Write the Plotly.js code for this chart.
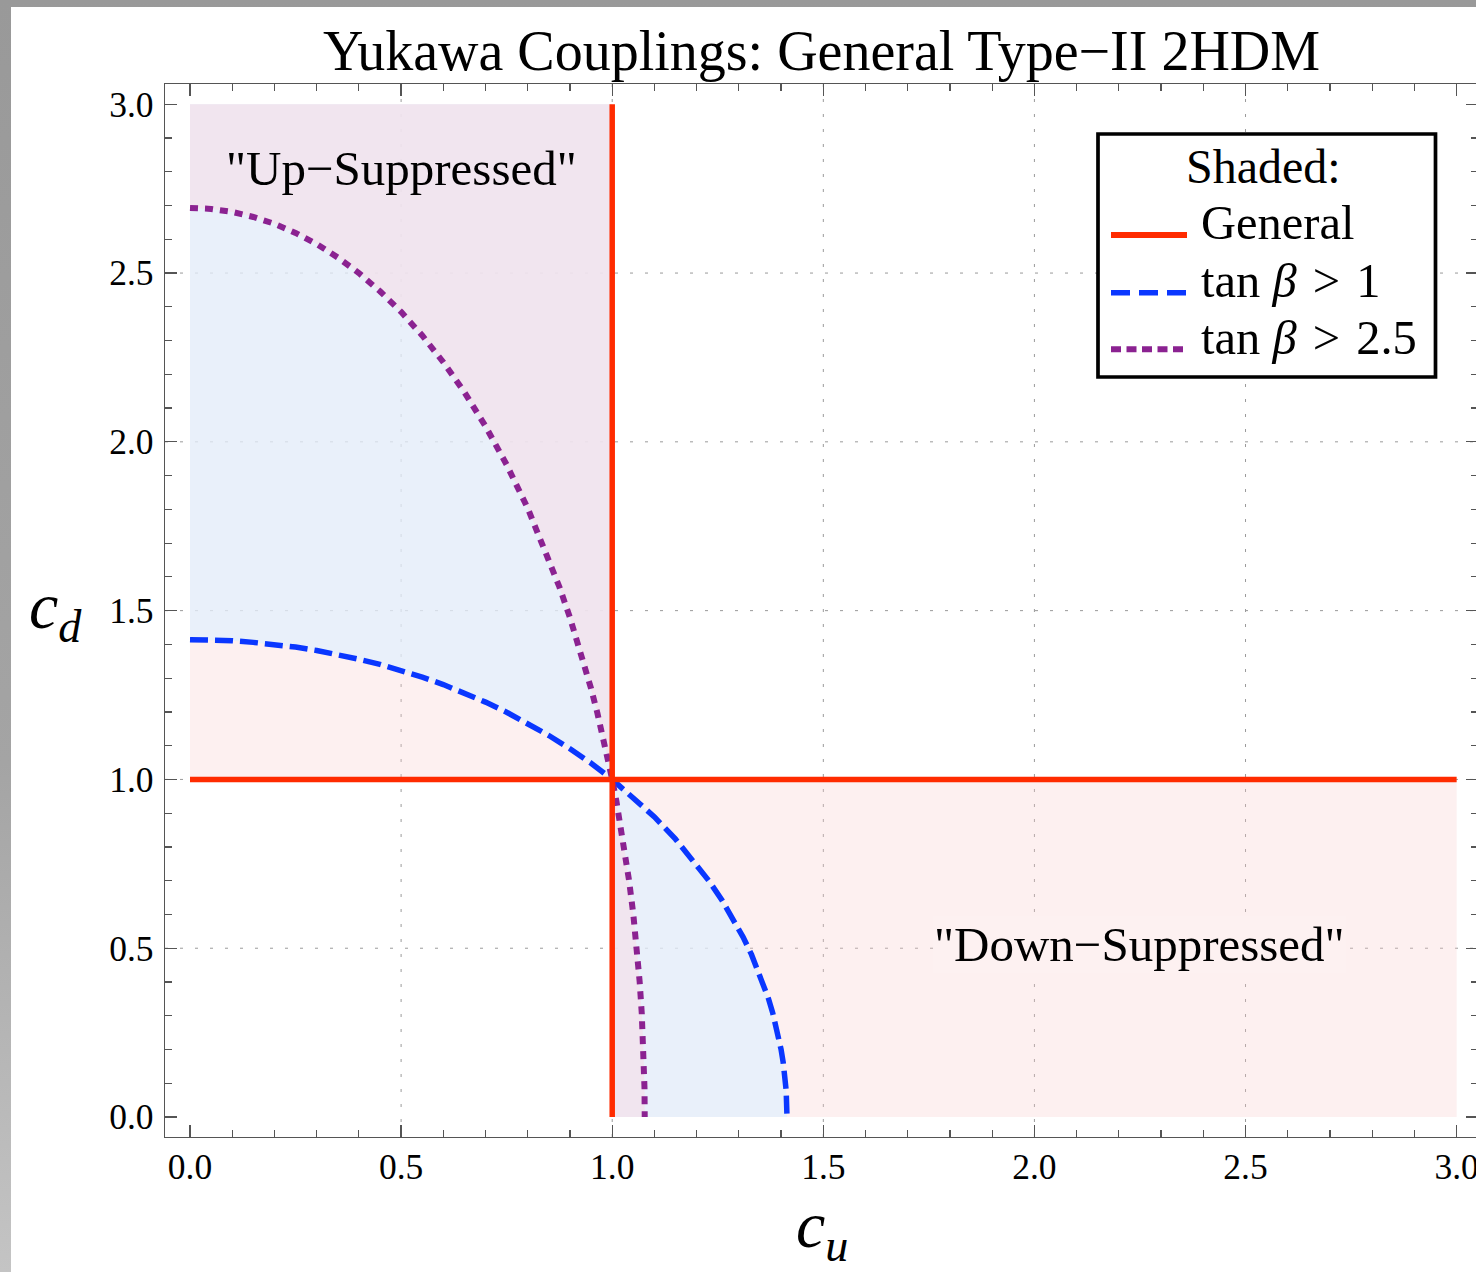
<!DOCTYPE html>
<html>
<head>
<meta charset="utf-8">
<script src="https://cdn.plot.ly/plotly-3.0.1.min.js"></script>
<style>
html, body { margin:0; padding:0; width:1476px; height:1272px; overflow:hidden; }
body { background: linear-gradient(to bottom, #999999 0%, #a4a4a4 60%, #c4c4c4 100%); }
#plot { position:absolute; left:11px; top:7px; width:1479px; height:1265px; background:#fff; }
</style>
</head>
<body>
<div id="plot"></div>
<script>
// ---------------- data ----------------
// "General" boundaries (red solid): c_d = 1 and c_u = 1
const generalHX = [0, 3];
const generalHY = [1, 1];
const generalVX = [1, 1];
const generalVY = [0, 3];
// "General" shaded regions
const upRegionX = [0, 1, 1, 0];
const upRegionY = [1, 1, 3, 3];
const downRegionX = [1, 3, 3, 1];
const downRegionY = [0, 0, 1, 1];
// tan beta > 1 boundary (blue dashed)
const tb1X = [0, 0.05, 0.1, 0.15, 0.2, 0.25, 0.3, 0.35, 0.4, 0.45, 0.5, 0.55, 0.6, 0.65, 0.7, 0.75, 0.8, 0.85, 0.9, 0.95,
              1.0, 1.05, 1.1, 1.15, 1.2, 1.23, 1.26, 1.29, 1.31, 1.33, 1.35, 1.37, 1.38, 1.395, 1.40, 1.405, 1.41, 1.412, 1.414];
const tb1Y = [1.414, 1.413, 1.411, 1.406, 1.400, 1.392, 1.382, 1.370, 1.356, 1.341, 1.323, 1.303, 1.281, 1.256, 1.229, 1.199, 1.166, 1.130, 1.091, 1.048,
              1.000, 0.947, 0.889, 0.823, 0.748, 0.698, 0.642, 0.580, 0.533, 0.481, 0.421, 0.351, 0.309, 0.232, 0.200, 0.161, 0.109, 0.079, 0.0];
// tan beta > 2.5 boundary (purple dotted)
const tb25X = [0, 0.05, 0.1, 0.15, 0.2, 0.25, 0.3, 0.35, 0.4, 0.45, 0.5, 0.55, 0.6, 0.65, 0.7, 0.75, 0.8, 0.85, 0.875, 0.9, 0.925, 0.95, 0.965, 0.98, 0.99,
               1.0, 1.01, 1.02, 1.03, 1.04, 1.05, 1.06, 1.065, 1.07, 1.073, 1.075, 1.0765, 1.077];
const tb25Y = [2.693, 2.690, 2.681, 2.666, 2.646, 2.619, 2.586, 2.546, 2.500, 2.446, 2.385, 2.315, 2.236, 2.147, 2.046, 1.932, 1.803, 1.654, 1.570, 1.479, 1.379, 1.269, 1.196, 1.117, 1.060,
               1.000, 0.935, 0.865, 0.787, 0.700, 0.600, 0.477, 0.401, 0.307, 0.233, 0.164, 0.085, 0.0];
// ticks
const tickVals = [0, 0.5, 1, 1.5, 2, 2.5, 3];
const tickText = ['0.0', '0.5', '1.0', '1.5', '2.0', '2.5', '3.0'];
const gridVals = [0.5, 1, 1.5, 2, 2.5];
// texts
const titleText = 'Yukawa Couplings: General Type\u2212II 2HDM';
const upLabel = '"Up\u2212Suppressed"';
const downLabel = '"Down\u2212Suppressed"';
const legendTitle = 'Shaded:';
const GT = '\u2004>\u2004';
const legendNames = ['General', 'tan <i>\u03b2</i>' + GT + '1', 'tan <i>\u03b2</i>' + GT + '2.5'];

// ---------------- styles ----------------
const FONT = 'Liberation Serif, Times New Roman, serif';
const RED = '#ff2b00', BLUE = '#0a37ff', PURPLE = '#8b2291';
const RED_FILL = 'rgba(248,205,205,0.3)';
const BLUE_FILL = 'rgba(224,240,254,0.7)';
const PURPLE_FILL = 'rgba(244,224,234,0.7)';
const BLUE_DASH = '18px,7px';
const PURPLE_DASH = '8px,7px';

const yTop = Math.max(...upRegionY);
const yBot = Math.min(...downRegionY);
const xCut = generalVX[0];

function upperPoly(xs, ys) {
  const px = [], py = [];
  for (let i = 0; i < xs.length; i++) if (xs[i] <= xCut) { px.push(xs[i]); py.push(ys[i]); }
  px.push(xCut, xs[0]); py.push(yTop, yTop);
  return {x: px, y: py};
}
function lowerPoly(xs, ys) {
  const px = [], py = [];
  for (let i = 0; i < xs.length; i++) if (xs[i] >= xCut) { px.push(xs[i]); py.push(ys[i]); }
  px.push(xCut); py.push(yBot);
  return {x: px, y: py};
}
function fillTrace(p, color) {
  return {x: p.x, y: p.y, type: 'scatter', mode: 'lines', fill: 'toself', fillcolor: color,
          line: {width: 0, color: color}, hoverinfo: 'skip', showlegend: false};
}

const traces = [
  fillTrace({x: upRegionX, y: upRegionY}, RED_FILL),
  fillTrace({x: downRegionX, y: downRegionY}, RED_FILL),
  fillTrace(upperPoly(tb1X, tb1Y), BLUE_FILL),
  fillTrace(lowerPoly(tb1X, tb1Y), BLUE_FILL),
  fillTrace(upperPoly(tb25X, tb25Y), PURPLE_FILL),
  fillTrace(lowerPoly(tb25X, tb25Y), PURPLE_FILL),
  {x: tb1X, y: tb1Y, type: 'scatter', mode: 'lines', name: 'tan \u03b2 > 1',
   line: {color: BLUE, width: 5.5, dash: BLUE_DASH}, showlegend: false},
  {x: tb25X, y: tb25Y, type: 'scatter', mode: 'lines', name: 'tan \u03b2 > 2.5',
   line: {color: PURPLE, width: 6, dash: PURPLE_DASH}, showlegend: false},
  {x: generalHX.concat([null], generalVX), y: generalHY.concat([null], generalVY),
   type: 'scatter', mode: 'lines', name: 'General', line: {color: RED, width: 5.5}, showlegend: false}
];

// plot area in page pixels: left 165, right 1478, top 84, bottom 1137
const pxX = px => (px - 165) / 1313;
const pxY = py => (1137 - py) / 1053;

const shapes = [];
gridVals.forEach(v => {
  shapes.push({type: 'line', layer: 'below', xref: 'x', yref: 'paper', x0: v, x1: v, y0: 0, y1: 1,
               line: {color: '#9a9a9a', width: 1, dash: '3px,12px'}});
  shapes.push({type: 'line', layer: 'below', xref: 'paper', yref: 'y', x0: 0, x1: 1, y0: v, y1: v,
               line: {color: '#9a9a9a', width: 1, dash: '3px,12px'}});
});
// legend box
shapes.push({type: 'rect', layer: 'above', xref: 'paper', yref: 'paper',
             x0: pxX(1098), x1: pxX(1435.5), y0: pxY(377), y1: pxY(134),
             fillcolor: '#ffffff', line: {color: '#000', width: 3.7}});
// legend samples
const sampleYs = [235, 292.7, 349.3];
const sampleStyles = [{color: RED, width: 6}, {color: BLUE, width: 5.5, dash: '19px,9px'}, {color: PURPLE, width: 6, dash: '10px,5.5px'}];
sampleYs.forEach((py, i) => {
  shapes.push({type: 'line', layer: 'above', xref: 'paper', yref: 'paper',
               x0: pxX(1111), x1: pxX(1187), y0: pxY(py), y1: pxY(py), line: sampleStyles[i]});
});

const annotations = [
  {text: upLabel, x: 0.5, y: 2.81, xref: 'x', yref: 'y', xanchor: 'center', yanchor: 'middle',
   showarrow: false, font: {family: FONT, size: 49, color: '#000'}},
  {text: downLabel, x: 2.25, y: 0.51, xref: 'x', yref: 'y', xanchor: 'center', yanchor: 'middle',
   showarrow: false, bgcolor: '#fdf1f1', borderpad: 0, font: {family: FONT, size: 49, color: '#000'}},
  {text: legendTitle, x: pxX(1263.3), y: pxY(166.8), xref: 'paper', yref: 'paper', xanchor: 'center', yanchor: 'middle',
   showarrow: false, font: {family: FONT, size: 48, color: '#000'}},
  {text: '<i>c</i><sub><i>u</i></sub>', x: 0.5, y: pxY(1229.5), xref: 'paper', yref: 'paper', xanchor: 'center', yanchor: 'middle',
   showarrow: false, font: {family: FONT, size: 66, color: '#000'}},
  {text: '<i>c</i><sub><i>d</i></sub>', x: pxX(55), y: 1.5, xref: 'paper', yref: 'y', xanchor: 'center', yanchor: 'middle',
   showarrow: false, font: {family: FONT, size: 66, color: '#000'}}
];
const legendMid = [222.8, 280.5, 337.5];
legendNames.forEach((t, i) => {
  annotations.push({text: t, x: pxX(1199), y: pxY(legendMid[i]), xref: 'paper', yref: 'paper',
                    xanchor: 'left', yanchor: 'middle', showarrow: false,
                    font: {family: FONT, size: 48.5, color: '#000'}});
});

function axisStyle(range) {
  return {
    range: range, showline: true, linecolor: '#555', linewidth: 1.3, mirror: 'allticks',
    ticks: 'inside', ticklen: 12, tickwidth: 1.3, tickcolor: '#555',
    tickmode: 'array', tickvals: tickVals, ticktext: tickText,
    tickfont: {family: FONT, size: 35.5, color: '#000'},
    showgrid: false, zeroline: false, fixedrange: true,
    minor: {tickmode: 'linear', tick0: 0, dtick: 0.1, ticks: 'inside', ticklen: 7, tickwidth: 1.2,
            tickcolor: '#555', showgrid: false}
  };
}
const xaxis = axisStyle([-0.0592, 3.0506]);
xaxis.ticklabelstandoff = -2;
const yaxis = axisStyle([-0.0592, 3.06]);
yaxis.ticklabelstandoff = 3;

const layout = {
  width: 1479, height: 1265,
  margin: {l: 154, r: 12, t: 77, b: 135, pad: 0},
  paper_bgcolor: '#ffffff', plot_bgcolor: '#ffffff',
  showlegend: false,
  font: {family: FONT, color: '#000'},
  title: {text: titleText, font: {family: FONT, size: 56, color: '#000'},
          x: 0.5, xref: 'paper', xanchor: 'center', y: 0.966, yref: 'container', yanchor: 'middle'},
  xaxis: xaxis, yaxis: yaxis,
  shapes: shapes, annotations: annotations
};

Plotly.newPlot('plot', traces, layout, {displayModeBar: false, staticPlot: true});
</script>
</body>
</html>
